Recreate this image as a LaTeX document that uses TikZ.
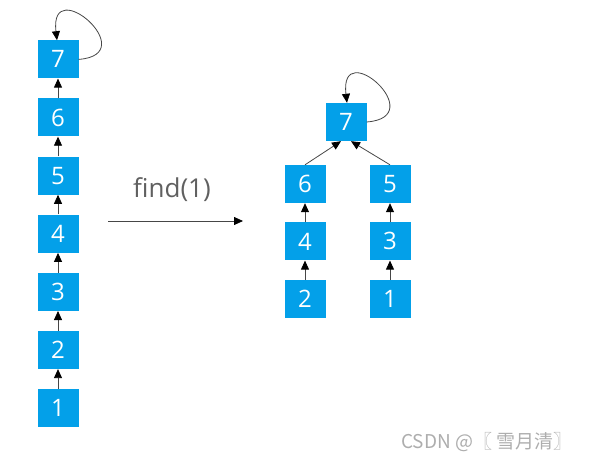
\documentclass[tikz,border=0pt]{standalone}
\usepackage{fontspec}
\setmainfont{Open Sans}
\newfontfamily\cjkfont{Noto Sans CJK SC}
\usetikzlibrary{positioning,arrows.meta}
\definecolor{boxblue}{RGB}{3,160,233}
\definecolor{linegray}{RGB}{70,70,70}
\definecolor{textgray}{RGB}{96,96,96}

\begin{document}
\begin{tikzpicture}[
        x=1pt, y=-1pt,
        node distance=19.7pt,
        every node/.style={font=\fontsize{24}{28}\selectfont},
        elem/.style={fill=boxblue, text=white, minimum width=41pt, minimum height=38pt, inner sep=0pt},
        link/.style={draw=linegray, line width=0.8pt, -{Triangle[length=9pt,width=8pt,color=black]}},
        findlabel/.style={text=textgray, font=\fontsize{26}{30}\selectfont},
        wmark/.style={text=black!32, font=\cjkfont\fontsize{19}{22}\selectfont}
      ]
  \useasboundingbox (0,0) rectangle (602,470);

  \node[elem] (l1) at (58,408) {1};
  \node[elem, above=of l1] (l2) {2};
  \node[elem, above=of l2] (l3) {3};
  \node[elem, above=of l3] (l4) {4};
  \node[elem, above=of l4] (l5) {5};
  \node[elem, above=of l5] (l6) {6};
  \node[elem, above=of l6] (l7) {7};

  \draw[link] (l1) -- (l2);
  \draw[link] (l2) -- (l3);
  \draw[link] (l3) -- (l4);
  \draw[link] (l4) -- (l5);
  \draw[link] (l5) -- (l6);
  \draw[link] (l6) -- (l7);
  \draw[link] (l7.east) .. controls +(65,-5) and +(-8,-68) .. ([xshift=-1pt]l7.north);

  \coordinate (fs) at (108,221);
  \coordinate (fe) at (243,221);
  \draw[link] (fs) -- (fe);
  \node[findlabel] (find) at (172,190) {find(1)};

  \node[elem] (r7) at (346,122) {7};
  \node[elem] (r6) at (305,184) {6};
  \node[elem, below=19pt of r6] (r4) {4};
  \node[elem, below=19pt of r4] (r2) {2};
  \node[elem] (r5) at (390,184) {5};
  \node[elem, below=19pt of r5] (r3) {3};
  \node[elem, below=19pt of r3] (r1) {1};

  \draw[link] (r2) -- (r4);
  \draw[link] (r4) -- (r6);
  \draw[link] (r1) -- (r3);
  \draw[link] (r3) -- (r5);
  \draw[link] (r6.north) -- ([xshift=-5pt]r7.south);
  \draw[link] (r5.north) -- ([xshift=5pt]r7.south);
  \draw[link] (r7.east) .. controls +(65,-5) and +(-8,-68) .. ([xshift=1pt]r7.north);

  \node[wmark, anchor=east] (csdn) at (576,442) {CSDN @〖 雪月清〗};

\end{tikzpicture}
\end{document}
